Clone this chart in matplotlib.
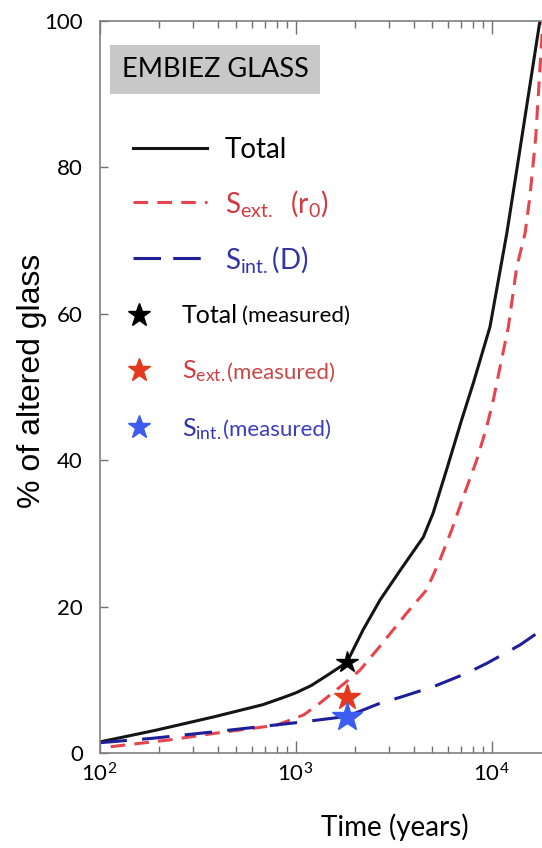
import matplotlib

matplotlib.use("Agg")
import matplotlib.pyplot as plt
from matplotlib.lines import Line2D

plt.rcParams["font.family"] = ["Lato", "DejaVu Sans"]
plt.rcParams["mathtext.default"] = "regular"

# modelled curves (time in years, % of altered glass)
total_time = [100, 193, 386, 681, 850, 1000, 1200, 1450, 1830, 2210, 2700,
              3410, 4490, 5040, 5900, 7040, 8070, 9820, 11970, 13960, 17660]
total_pct = [1.5, 3.1, 4.96, 6.6, 7.5, 8.2, 9.2, 10.6, 12.4, 16.8, 20.9,
             24.9, 29.5, 32.8, 38.7, 45.5, 50.5, 58.2, 71.0, 82.4, 100.0]

ext_time = [114, 229, 390, 800, 1100, 1330, 1830, 2130, 2700, 3690, 4670,
            5460, 6270, 7180, 8400, 9440, 10210, 11050, 12190, 13450, 14830,
            15700, 16800, 18000, 18300]
ext_pct = [0.86, 1.8, 2.7, 3.8, 5.2, 6.8, 9.8, 11.3, 14.6, 19.1, 22.3,
           26.4, 30.5, 35.0, 40.0, 44.5, 48.2, 52.7, 58.2, 66.4, 71.0,
           76.0, 84.0, 97.0, 100.0]

int_time = [100, 185, 386, 1055, 1830, 2700, 3410, 5050, 7470, 9460, 13960, 18030]
int_pct = [1.4, 2.0, 2.9, 4.2, 5.0, 6.8, 7.6, 9.06, 10.9, 12.25, 14.75, 16.8]

# measured values
meas_time = 1830
meas_total = 12.4
meas_ext = 7.65
meas_int = 4.9

BLACK = "#151515"
RED_LINE = "#e6454e"
NAVY = "#1f1f9a"
RED_TXT = "#d33a40"
BLUE_TXT = "#3333aa"
STAR_RED = "#e5381c"
STAR_BLUE = "#3c5cf2"

fig = plt.figure(figsize=(5.42, 8.48), dpi=100)
ax = fig.add_axes([99.5 / 542, 95 / 848, 442.5 / 542, 732 / 848])

ax.plot(total_time, total_pct, color=BLACK, lw=2.2, solid_capstyle="round")
ax.plot(ext_time, ext_pct, color=RED_LINE, lw=2.2, dashes=(4.8, 3.0))
ax.plot(int_time, int_pct, color=NAVY, lw=2.2, dashes=(9.0, 5.0))

ax.plot(meas_time, meas_total, marker="*", ms=16, color="black", ls="none", zorder=4)
ax.plot(meas_time, meas_ext, marker="*", ms=19, color=STAR_RED, ls="none", zorder=4)
ax.plot(meas_time, meas_int, marker="*", ms=22, color=STAR_BLUE, ls="none", zorder=4)

ax.set_xscale("log")
ax.set_xlim(1e2, 10 ** (2 + 442.5 / 196))
ax.set_ylim(0, 100)
ax.set_yticks([0, 20, 40, 60, 80, 100])

for side in ["left", "bottom", "top"]:
    ax.spines[side].set_color("#808080")
    ax.spines[side].set_linewidth(1.2)
ax.spines["right"].set_visible(False)

ax.tick_params(axis="x", which="major", direction="in", length=9, width=1.0,
               color="#707070", top=True, labelsize=16, pad=7)
ax.tick_params(axis="x", which="minor", direction="in", length=5, width=1.0,
               color="#707070", top=True)
ax.tick_params(axis="y", which="major", direction="in", length=6, width=1.0,
               color="#707070", labelsize=16, pad=12)

ax.set_xlabel("Time (years)", fontsize=20)
ax.xaxis.set_label_coords(0.668, -0.082)
ax.set_ylabel("% of altered glass", fontsize=23, family="Liberation Sans")
ax.yaxis.set_label_coords(-0.118, 0.508)

ax.text(0.261, 0.934, "EMBIEZ GLASS", transform=ax.transAxes, fontsize=19.5,
        ha="center", va="center",
        bbox=dict(boxstyle="square,pad=0.44", fc="#c8c8c8", ec="none"))

line_handles = [
    Line2D([], [], color=BLACK, lw=2.2),
    Line2D([], [], color=RED_LINE, lw=2.2, dashes=(4.8, 3.0)),
    Line2D([], [], color=NAVY, lw=2.2, dashes=(9.0, 4.0)),
]
line_labels = ["Total", "S$_{ext.}$  (r$_0$)", "S$_{int.}$(D)"]
leg1 = ax.legend(line_handles, line_labels, loc="upper left",
                 bbox_to_anchor=(0.0757, 0.842), frameon=False, fontsize=20,
                 handlelength=2.66, handletextpad=0.65, labelspacing=0.9,
                 borderpad=0, borderaxespad=0,
                 labelcolor=["black", RED_TXT, BLUE_TXT])
ax.add_artist(leg1)

star_handles = [
    Line2D([], [], marker="*", ms=17, color="black", ls="none"),
    Line2D([], [], marker="*", ms=17, color=STAR_RED, ls="none"),
    Line2D([], [], marker="*", ms=17, color=STAR_BLUE, ls="none"),
]
star_labels = ["Total", "S$_{ext.}$", "S$_{int.}$"]
leg2 = ax.legend(star_handles, star_labels, loc="upper left",
                 bbox_to_anchor=(0.061, 0.613), frameon=False, fontsize=18,
                 handlelength=1.0, handletextpad=1.22, labelspacing=1.25,
                 borderpad=0, borderaxespad=0,
                 labelcolor=["black", RED_TXT, BLUE_TXT])

meas_colors = ["black", "#c84848", "#3c3cc0"]
meas_gap = [3, 1, 1]
for txt, col, gap in zip(leg2.get_texts(), meas_colors, meas_gap):
    ax.annotate("(measured)", xy=(1, 0), xycoords=txt, xytext=(gap, 1),
                textcoords="offset points", ha="left", va="bottom",
                fontsize=16, color=col, zorder=6)

fig.savefig("out.png", dpi=100)
